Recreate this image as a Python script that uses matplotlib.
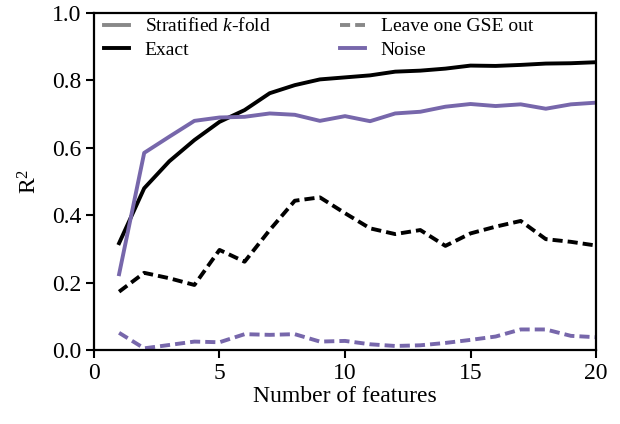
import matplotlib
matplotlib.use("Agg")
import matplotlib.pyplot as plt
from matplotlib.lines import Line2D

plt.rcParams['font.family'] = ['Liberation Serif', 'DejaVu Serif']
plt.rcParams['mathtext.fontset'] = 'custom'
plt.rcParams['mathtext.rm'] = 'Liberation Serif'
plt.rcParams['mathtext.it'] = 'Liberation Serif:italic'

n_features = list(range(1, 21))
exact_kfold = [0.317, 0.48, 0.56, 0.623, 0.677, 0.712, 0.762, 0.786, 0.803, 0.809,
               0.815, 0.826, 0.829, 0.835, 0.844, 0.843, 0.846, 0.850, 0.851, 0.854]
noise_kfold = [0.225, 0.585, 0.633, 0.680, 0.690, 0.692, 0.702, 0.698, 0.680, 0.694,
               0.679, 0.702, 0.707, 0.722, 0.730, 0.724, 0.729, 0.716, 0.729, 0.734]
exact_gse = [0.173, 0.229, 0.213, 0.193, 0.297, 0.262, 0.356, 0.443, 0.453, 0.406,
             0.361, 0.344, 0.356, 0.309, 0.346, 0.366, 0.383, 0.329, 0.321, 0.310]
noise_gse = [0.051, 0.005, 0.015, 0.025, 0.023, 0.047, 0.045, 0.047, 0.025, 0.027,
             0.017, 0.012, 0.014, 0.021, 0.030, 0.040, 0.061, 0.061, 0.042, 0.038]

purple = '#7767ab'
lw = 2.8
dash = (2.6, 1.3)

fig = plt.figure(figsize=(6.2, 4.24), dpi=100)
ax = fig.add_axes([0.1516, 0.1745, 0.8097, 0.7948])

ax.plot(n_features, exact_kfold, color='black', lw=lw)
ax.plot(n_features, noise_kfold, color=purple, lw=lw)
ax.plot(n_features, exact_gse, color='black', lw=lw, ls='--', dashes=dash)
ax.plot(n_features, noise_gse, color=purple, lw=lw, ls='--', dashes=dash)

ax.set_xlim(0, 20)
ax.set_ylim(0, 1.0)
ax.set_xticks([0, 5, 10, 15, 20])
ax.set_yticks([0.0, 0.2, 0.4, 0.6, 0.8, 1.0])
ax.set_yticklabels(['0.0', '0.2', '0.4', '0.6', '0.8', '1.0'])
ax.tick_params(direction='out', length=6, width=1.5, labelsize=17, pad=3)
for s in ax.spines.values():
    s.set_linewidth(1.6)
ax.set_xlabel('Number of features', fontsize=17, labelpad=2)
ax.set_ylabel('R$^2$', fontsize=17, labelpad=8)

handles = [
    Line2D([], [], color='#888888', lw=lw),
    Line2D([], [], color='black', lw=lw),
    Line2D([], [], color='#888888', lw=lw, ls='--', dashes=dash),
    Line2D([], [], color=purple, lw=lw),
]
labels = ['Stratified $k$-fold', 'Exact', 'Leave one GSE out', 'Noise']
ax.legend(handles, labels, ncol=2, frameon=False, loc='upper left', fontsize=14,
          bbox_to_anchor=(0.018, 0.99), borderaxespad=0.0, labelspacing=0.3,
          handlelength=1.3, columnspacing=3.55, borderpad=0.05, handletextpad=0.8)

fig.savefig('out.png', dpi=100)
